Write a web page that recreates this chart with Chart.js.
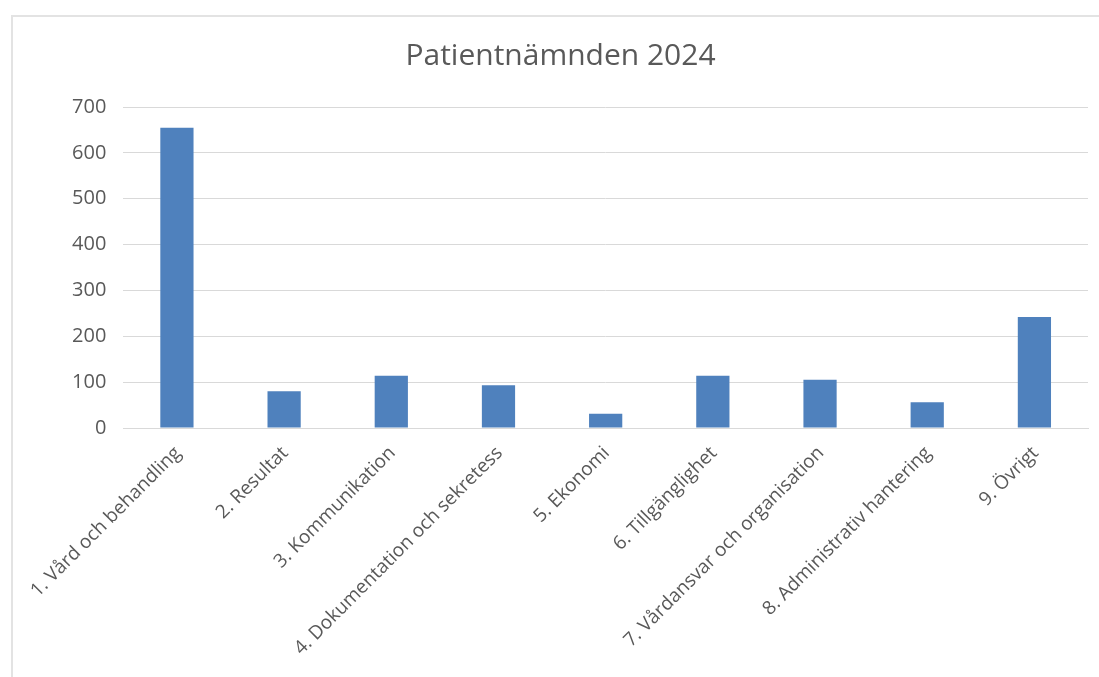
<!DOCTYPE html>
<html>
<head>
<meta charset="utf-8">
<script src="https://cdn.jsdelivr.net/npm/chart.js@4"></script>
<style>
  html, body { margin: 0; padding: 0; background: #fff; }
  #ram {
    position: absolute; left: 11px; top: 15px;
    width: 1088px; height: 662px;
    border-left: 2px solid #e3e3e3; border-top: 2px solid #e3e3e3;
  }
  #grafica { display: block; }
</style>
</head>
<body>
<div id="ram"><canvas id="grafica" width="1086" height="660"></canvas></div>
<script>
// DATA
const kategorier = [
  "1. Vård och behandling",
  "2. Resultat",
  "3. Kommunikation",
  "4. Dokumentation och sekretess",
  "5. Ekonomi",
  "6. Tillgänglighet",
  "7. Vårdansvar och organisation",
  "8. Administrativ hantering",
  "9. Övrigt"
];
const antal = [655, 80, 114, 93, 31, 114, 105, 56, 242];
const yTicks = [0, 100, 200, 300, 400, 500, 600, 700];

const grå = "#595959";
const font = "'Open Sans', 'Liberation Sans', sans-serif";

const ctx = document.getElementById("grafica").getContext("2d");
new Chart(ctx, {
  type: "bar",
  data: {
    labels: kategorier,
    datasets: [{
      label: "Patientnämnden 2024",
      data: antal,
      backgroundColor: "#4f81bd",
      categoryPercentage: 1,
      barPercentage: 0.31
    }]
  },
  options: {
    responsive: false,
    animation: false,
    layout: { padding: { left: 20, right: 11, top: 0, bottom: 0 } },
    plugins: {
      legend: { display: false },
      tooltip: { enabled: false },
      title: {
        display: true,
        text: "Patientnämnden 2024",
        color: grå,
        font: { family: font, size: 30, weight: "normal" },
        padding: { top: 21, bottom: 33 }
      }
    },
    scales: {
      x: {
        grid: { display: false, drawTicks: false },
        border: { color: "#d9d9d9", width: 1 },
        ticks: {
          color: grå,
          font: { family: font, size: 19 },
          minRotation: 45,
          maxRotation: 45,
          padding: 14,
          labelOffset: 1,
          autoSkip: false
        },
        afterFit: s => { s.height = 249; }
      },
      y: {
        min: 0,
        max: 700,
        grid: { color: "#d9d9d9", lineWidth: 1, drawTicks: false },
        border: { display: false },
        afterBuildTicks: s => { s.ticks = yTicks.map(v => ({ value: v })); },
        ticks: {
          color: grå,
          font: { family: font, size: 20 },
          padding: 17
        },
        afterFit: s => { s.width = 89; }
      }
    }
  }
});
</script>
</body>
</html>
